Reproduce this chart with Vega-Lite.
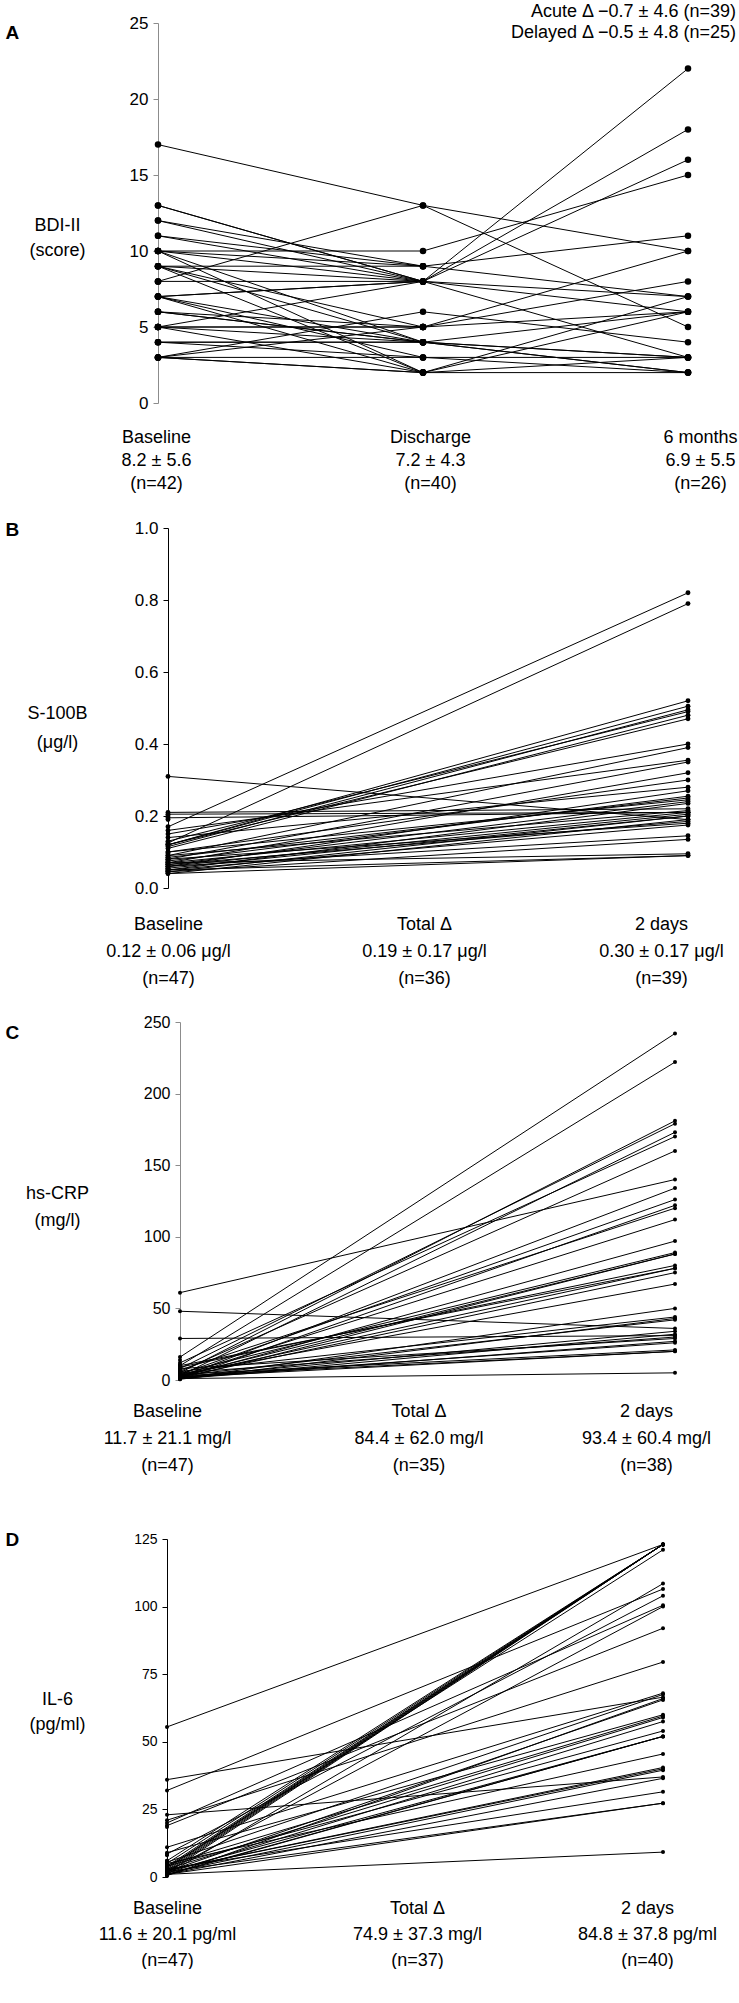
{
"$schema": "https://vega.github.io/schema/vega-lite/v6.json",
"padding": {"left": 5, "top": 3, "right": 0, "bottom": 0},
"background": "white",
"spacing": 27,
"config": {"font": "Liberation Sans", "view": {"stroke": null}, "axis": {"grid": false, "labelColor": "black", "titleColor": "black", "titleFontWeight": "normal"}, "title": {"color": "black", "fontWeight": "normal"}},
"datasets": {
"A": [
{"id":1,"time":"Baseline","value":17},{"id":1,"time":"Discharge","value":13},{"id":1,"time":"6 months","value":10},
{"id":2,"time":"Baseline","value":13},{"id":2,"time":"Discharge","value":8},{"id":2,"time":"6 months","value":16},
{"id":3,"time":"Baseline","value":12},{"id":3,"time":"Discharge","value":8},{"id":3,"time":"6 months","value":18},
{"id":4,"time":"Baseline","value":11},{"id":4,"time":"Discharge","value":9},{"id":4,"time":"6 months","value":11},
{"id":5,"time":"Baseline","value":10},{"id":5,"time":"Discharge","value":10},{"id":5,"time":"6 months","value":15},
{"id":6,"time":"Baseline","value":10},{"id":6,"time":"Discharge","value":8},{"id":6,"time":"6 months","value":22},
{"id":7,"time":"Baseline","value":10},{"id":7,"time":"Discharge","value":2},{"id":7,"time":"6 months","value":7},
{"id":8,"time":"Baseline","value":9},{"id":8,"time":"Discharge","value":8},{"id":8,"time":"6 months","value":7},
{"id":9,"time":"Baseline","value":9},{"id":9,"time":"Discharge","value":5},{"id":9,"time":"6 months","value":6},
{"id":10,"time":"Baseline","value":9},{"id":10,"time":"Discharge","value":2},{"id":10,"time":"6 months","value":3},
{"id":11,"time":"Baseline","value":8},{"id":11,"time":"Discharge","value":13},{"id":11,"time":"6 months","value":5},
{"id":12,"time":"Baseline","value":7},{"id":12,"time":"Discharge","value":8},{"id":12,"time":"6 months","value":6},
{"id":13,"time":"Baseline","value":7},{"id":13,"time":"Discharge","value":4},{"id":13,"time":"6 months","value":3},
{"id":14,"time":"Baseline","value":7},{"id":14,"time":"Discharge","value":2},{"id":14,"time":"6 months","value":6},
{"id":15,"time":"Baseline","value":6},{"id":15,"time":"Discharge","value":4},{"id":15,"time":"6 months","value":2},
{"id":16,"time":"Baseline","value":5},{"id":16,"time":"Discharge","value":5},{"id":16,"time":"6 months","value":10},
{"id":17,"time":"Baseline","value":5},{"id":17,"time":"Discharge","value":8},{"id":17,"time":"6 months","value":3},
{"id":18,"time":"Baseline","value":3},{"id":18,"time":"Discharge","value":6},{"id":18,"time":"6 months","value":4},
{"id":19,"time":"Baseline","value":3},{"id":19,"time":"Discharge","value":5},{"id":19,"time":"6 months","value":8},
{"id":20,"time":"Baseline","value":3},{"id":20,"time":"Discharge","value":2},{"id":20,"time":"6 months","value":2},
{"id":21,"time":"Baseline","value":4},{"id":21,"time":"Discharge","value":4},{"id":21,"time":"6 months","value":3},
{"id":22,"time":"Baseline","value":5},{"id":22,"time":"Discharge","value":4},{"id":22,"time":"6 months","value":2},
{"id":23,"time":"Baseline","value":7},{"id":23,"time":"Discharge","value":3},{"id":23,"time":"6 months","value":3},
{"id":24,"time":"Baseline","value":10},{"id":24,"time":"Discharge","value":4},{"id":24,"time":"6 months","value":6},
{"id":25,"time":"Baseline","value":4},{"id":25,"time":"Discharge","value":3},{"id":25,"time":"6 months","value":2},
{"id":26,"time":"Baseline","value":12},{"id":26,"time":"Discharge","value":9},{"id":26,"time":"6 months","value":7},
{"id":27,"time":"Baseline","value":13},{"id":27,"time":"Discharge","value":8},
{"id":28,"time":"Baseline","value":11},{"id":28,"time":"Discharge","value":8},
{"id":29,"time":"Baseline","value":10},{"id":29,"time":"Discharge","value":9},
{"id":30,"time":"Baseline","value":9},{"id":30,"time":"Discharge","value":4},
{"id":31,"time":"Baseline","value":8},{"id":31,"time":"Discharge","value":8},
{"id":32,"time":"Baseline","value":7},{"id":32,"time":"Discharge","value":8},
{"id":33,"time":"Baseline","value":6},{"id":33,"time":"Discharge","value":5},
{"id":34,"time":"Baseline","value":5},{"id":34,"time":"Discharge","value":5},
{"id":35,"time":"Baseline","value":4},{"id":35,"time":"Discharge","value":4},
{"id":36,"time":"Baseline","value":3},{"id":36,"time":"Discharge","value":3},
{"id":37,"time":"Baseline","value":3},{"id":37,"time":"Discharge","value":2},
{"id":38,"time":"Baseline","value":9},{"id":38,"time":"Discharge","value":9},
{"id":39,"time":"Baseline","value":6},{"id":39,"time":"Discharge","value":4},
{"id":40,"time":"Baseline","value":5},{"id":40,"time":"Discharge","value":2},
{"id":41,"time":"Baseline","value":8},
{"id":42,"time":"Baseline","value":6}
],
"B": [
{"id":1,"time":"Baseline","value":0.17},{"id":1,"time":"2 days","value":0.82},
{"id":2,"time":"Baseline","value":0.125},{"id":2,"time":"2 days","value":0.79},
{"id":3,"time":"Baseline","value":0.31},{"id":3,"time":"2 days","value":0.19},
{"id":4,"time":"Baseline","value":0.21},{"id":4,"time":"2 days","value":0.22},
{"id":5,"time":"Baseline","value":0.205},{"id":5,"time":"2 days","value":0.21},
{"id":6,"time":"Baseline","value":0.195},{"id":6,"time":"2 days","value":0.21},
{"id":7,"time":"Baseline","value":0.12},{"id":7,"time":"2 days","value":0.52},
{"id":8,"time":"Baseline","value":0.12},{"id":8,"time":"2 days","value":0.505},
{"id":9,"time":"Baseline","value":0.115},{"id":9,"time":"2 days","value":0.495},
{"id":10,"time":"Baseline","value":0.13},{"id":10,"time":"2 days","value":0.49},
{"id":11,"time":"Baseline","value":0.11},{"id":11,"time":"2 days","value":0.48},
{"id":12,"time":"Baseline","value":0.12},{"id":12,"time":"2 days","value":0.47},
{"id":13,"time":"Baseline","value":0.15},{"id":13,"time":"2 days","value":0.4},
{"id":14,"time":"Baseline","value":0.09},{"id":14,"time":"2 days","value":0.39},
{"id":15,"time":"Baseline","value":0.16},{"id":15,"time":"2 days","value":0.355},
{"id":16,"time":"Baseline","value":0.08},{"id":16,"time":"2 days","value":0.35},
{"id":17,"time":"Baseline","value":0.07},{"id":17,"time":"2 days","value":0.32},
{"id":18,"time":"Baseline","value":0.1},{"id":18,"time":"2 days","value":0.3},
{"id":19,"time":"Baseline","value":0.14},{"id":19,"time":"2 days","value":0.28},
{"id":20,"time":"Baseline","value":0.06},{"id":20,"time":"2 days","value":0.27},
{"id":21,"time":"Baseline","value":0.075},{"id":21,"time":"2 days","value":0.255},
{"id":22,"time":"Baseline","value":0.085},{"id":22,"time":"2 days","value":0.25},
{"id":23,"time":"Baseline","value":0.065},{"id":23,"time":"2 days","value":0.24},
{"id":24,"time":"Baseline","value":0.05},{"id":24,"time":"2 days","value":0.235},
{"id":25,"time":"Baseline","value":0.07},{"id":25,"time":"2 days","value":0.21},
{"id":26,"time":"Baseline","value":0.06},{"id":26,"time":"2 days","value":0.205},
{"id":27,"time":"Baseline","value":0.055},{"id":27,"time":"2 days","value":0.2},
{"id":28,"time":"Baseline","value":0.045},{"id":28,"time":"2 days","value":0.2},
{"id":29,"time":"Baseline","value":0.04},{"id":29,"time":"2 days","value":0.19},
{"id":30,"time":"Baseline","value":0.065},{"id":30,"time":"2 days","value":0.185},
{"id":31,"time":"Baseline","value":0.08},{"id":31,"time":"2 days","value":0.18},
{"id":32,"time":"Baseline","value":0.05},{"id":32,"time":"2 days","value":0.175},
{"id":33,"time":"Baseline","value":0.06},{"id":33,"time":"2 days","value":0.145},
{"id":34,"time":"Baseline","value":0.045},{"id":34,"time":"2 days","value":0.135},
{"id":35,"time":"Baseline","value":0.07},{"id":35,"time":"2 days","value":0.095},
{"id":36,"time":"Baseline","value":0.05},{"id":36,"time":"2 days","value":0.09},
{"id":37,"time":"Baseline","value":0.04},{"id":37,"time":"2 days","value":0.09},
{"id":38,"time":"Baseline","value":0.1},{"id":38,"time":"2 days","value":0.245},
{"id":39,"time":"Baseline","value":0.09},{"id":39,"time":"2 days","value":0.215},
{"id":40,"time":"Baseline","value":0.19},
{"id":41,"time":"Baseline","value":0.2},
{"id":42,"time":"Baseline","value":0.095},
{"id":43,"time":"Baseline","value":0.055},
{"id":44,"time":"Baseline","value":0.065},
{"id":45,"time":"Baseline","value":0.075},
{"id":46,"time":"Baseline","value":0.045},
{"id":47,"time":"Baseline","value":0.085}
],
"C": [
{"id":1,"time":"Baseline","value":61},{"id":1,"time":"2 days","value":140},
{"id":2,"time":"Baseline","value":48},{"id":2,"time":"2 days","value":36},
{"id":3,"time":"Baseline","value":29},{"id":3,"time":"2 days","value":31},
{"id":4,"time":"Baseline","value":16},{"id":4,"time":"2 days","value":242},
{"id":5,"time":"Baseline","value":10},{"id":5,"time":"2 days","value":222},
{"id":6,"time":"Baseline","value":5},{"id":6,"time":"2 days","value":181},
{"id":7,"time":"Baseline","value":8},{"id":7,"time":"2 days","value":179},
{"id":8,"time":"Baseline","value":3},{"id":8,"time":"2 days","value":173},
{"id":9,"time":"Baseline","value":12},{"id":9,"time":"2 days","value":170},
{"id":10,"time":"Baseline","value":6},{"id":10,"time":"2 days","value":160},
{"id":11,"time":"Baseline","value":2},{"id":11,"time":"2 days","value":134},
{"id":12,"time":"Baseline","value":4},{"id":12,"time":"2 days","value":126},
{"id":13,"time":"Baseline","value":1},{"id":13,"time":"2 days","value":122},
{"id":14,"time":"Baseline","value":7},{"id":14,"time":"2 days","value":120},
{"id":15,"time":"Baseline","value":3},{"id":15,"time":"2 days","value":112},
{"id":16,"time":"Baseline","value":2},{"id":16,"time":"2 days","value":97},
{"id":17,"time":"Baseline","value":5},{"id":17,"time":"2 days","value":89},
{"id":18,"time":"Baseline","value":1},{"id":18,"time":"2 days","value":88},
{"id":19,"time":"Baseline","value":9},{"id":19,"time":"2 days","value":80},
{"id":20,"time":"Baseline","value":3},{"id":20,"time":"2 days","value":78},
{"id":21,"time":"Baseline","value":2},{"id":21,"time":"2 days","value":75},
{"id":22,"time":"Baseline","value":4},{"id":22,"time":"2 days","value":67},
{"id":23,"time":"Baseline","value":1},{"id":23,"time":"2 days","value":50},
{"id":24,"time":"Baseline","value":6},{"id":24,"time":"2 days","value":44},
{"id":25,"time":"Baseline","value":3},{"id":25,"time":"2 days","value":42},
{"id":26,"time":"Baseline","value":2},{"id":26,"time":"2 days","value":34},
{"id":27,"time":"Baseline","value":8},{"id":27,"time":"2 days","value":29},
{"id":28,"time":"Baseline","value":1},{"id":28,"time":"2 days","value":27},
{"id":29,"time":"Baseline","value":4},{"id":29,"time":"2 days","value":21},
{"id":30,"time":"Baseline","value":2},{"id":30,"time":"2 days","value":20},
{"id":31,"time":"Baseline","value":1},{"id":31,"time":"2 days","value":5},
{"id":32,"time":"Baseline","value":3},{"id":32,"time":"2 days","value":88},
{"id":33,"time":"Baseline","value":0.5},{"id":33,"time":"2 days","value":43},
{"id":34,"time":"Baseline","value":5},{"id":34,"time":"2 days","value":30},
{"id":35,"time":"Baseline","value":2},{"id":35,"time":"2 days","value":26},
{"id":36,"time":"Baseline","value":10},{"id":36,"time":"2 days","value":78},
{"id":37,"time":"Baseline","value":1},{"id":37,"time":"2 days","value":32},
{"id":38,"time":"Baseline","value":3},{"id":38,"time":"2 days","value":20},
{"id":39,"time":"Baseline","value":0.5},
{"id":40,"time":"Baseline","value":1},
{"id":41,"time":"Baseline","value":2},
{"id":42,"time":"Baseline","value":3},
{"id":43,"time":"Baseline","value":4},
{"id":44,"time":"Baseline","value":6},
{"id":45,"time":"Baseline","value":11},
{"id":46,"time":"Baseline","value":14},
{"id":47,"time":"Baseline","value":7}
],
"D": [
{"id":1,"time":"Baseline","value":55.5},{"id":1,"time":"2 days","value":123},
{"id":2,"time":"Baseline","value":36},{"id":2,"time":"2 days","value":66.5},
{"id":3,"time":"Baseline","value":32},{"id":3,"time":"2 days","value":106.5},
{"id":4,"time":"Baseline","value":23},{"id":4,"time":"2 days","value":37},
{"id":5,"time":"Baseline","value":20},{"id":5,"time":"2 days","value":100.5},
{"id":6,"time":"Baseline","value":19},{"id":6,"time":"2 days","value":92},
{"id":7,"time":"Baseline","value":21},{"id":7,"time":"2 days","value":79.5},
{"id":8,"time":"Baseline","value":11},{"id":8,"time":"2 days","value":68},
{"id":9,"time":"Baseline","value":9},{"id":9,"time":"2 days","value":60},
{"id":10,"time":"Baseline","value":8.5},{"id":10,"time":"2 days","value":104},
{"id":11,"time":"Baseline","value":5},{"id":11,"time":"2 days","value":123},
{"id":12,"time":"Baseline","value":3},{"id":12,"time":"2 days","value":123},
{"id":13,"time":"Baseline","value":2},{"id":13,"time":"2 days","value":123},
{"id":14,"time":"Baseline","value":4},{"id":14,"time":"2 days","value":123},
{"id":15,"time":"Baseline","value":1.5},{"id":15,"time":"2 days","value":123},
{"id":16,"time":"Baseline","value":2.5},{"id":16,"time":"2 days","value":123},
{"id":17,"time":"Baseline","value":3.5},{"id":17,"time":"2 days","value":121},
{"id":18,"time":"Baseline","value":1},{"id":18,"time":"2 days","value":108.5},
{"id":19,"time":"Baseline","value":2},{"id":19,"time":"2 days","value":65.5},
{"id":20,"time":"Baseline","value":3},{"id":20,"time":"2 days","value":59},
{"id":21,"time":"Baseline","value":1.5},{"id":21,"time":"2 days","value":57.5},
{"id":22,"time":"Baseline","value":4},{"id":22,"time":"2 days","value":54},
{"id":23,"time":"Baseline","value":2},{"id":23,"time":"2 days","value":52},
{"id":24,"time":"Baseline","value":1},{"id":24,"time":"2 days","value":52},
{"id":25,"time":"Baseline","value":5},{"id":25,"time":"2 days","value":45.5},
{"id":26,"time":"Baseline","value":2.5},{"id":26,"time":"2 days","value":40.5},
{"id":27,"time":"Baseline","value":1.5},{"id":27,"time":"2 days","value":39.5},
{"id":28,"time":"Baseline","value":3},{"id":28,"time":"2 days","value":31.5},
{"id":29,"time":"Baseline","value":1},{"id":29,"time":"2 days","value":27.3},
{"id":30,"time":"Baseline","value":2},{"id":30,"time":"2 days","value":27.3},
{"id":31,"time":"Baseline","value":1},{"id":31,"time":"2 days","value":9.2},
{"id":32,"time":"Baseline","value":6},{"id":32,"time":"2 days","value":123},
{"id":33,"time":"Baseline","value":0.5},{"id":33,"time":"2 days","value":66},
{"id":34,"time":"Baseline","value":4.5},{"id":34,"time":"2 days","value":59.5},
{"id":35,"time":"Baseline","value":2.5},{"id":35,"time":"2 days","value":40},
{"id":36,"time":"Baseline","value":3.5},{"id":36,"time":"2 days","value":123},
{"id":37,"time":"Baseline","value":1},{"id":37,"time":"2 days","value":36.5},
{"id":38,"time":"Baseline","value":0.8},{"id":38,"time":"2 days","value":52},
{"id":39,"time":"Baseline","value":5.5},{"id":39,"time":"2 days","value":67.5},
{"id":40,"time":"Baseline","value":2},{"id":40,"time":"2 days","value":100},
{"id":41,"time":"Baseline","value":0.5},
{"id":42,"time":"Baseline","value":1},
{"id":43,"time":"Baseline","value":2},
{"id":44,"time":"Baseline","value":3},
{"id":45,"time":"Baseline","value":6},
{"id":46,"time":"Baseline","value":8},
{"id":47,"time":"Baseline","value":18.5}
]
},
"vconcat": [
{
"width": 530, "height": 380,
"data": {"name": "A"},
"title": {"text": ["Acute Δ −0.7 ± 4.6 (n=39)", "Delayed Δ −0.5 ± 4.8 (n=25)"], "anchor": "end", "frame": "group", "orient": "top", "align": "right", "dx": 48, "offset": -28, "fontSize": 18, "fontWeight": "normal", "lineHeight": 21, "color": "black"},
"encoding": {
"x": {"field": "time", "type": "ordinal", "scale": {"type": "point", "domain": ["Baseline", "Discharge", "6 months"], "range": [0, 530], "padding": 0},
 "axis": {"title": "A", "titleX": -153, "titleY": -371, "titleAlign": "left", "titleBaseline": "middle", "titleAngle": 0, "titleFontSize": 19, "titleFontWeight": "bold",
 "domain": false, "ticks": false, "tickSize": 0, "labelAngle": 0, "labelAlign": "center", "labelBaseline": "top", "labelPadding": 25, "labelFontSize": 18, "labelLineHeight": 23, "labelOverlap": false, "labelLimit": 0, "labelBound": false, "labelFlush": false,
 "labelExpr": "datum.value === 'Baseline' ? ['Baseline', '8.2 ± 5.6', '(n=42)'] : datum.value === 'Discharge' ? ['Discharge', '7.2 ± 4.3', '(n=40)'] : ['6 months', '6.9 ± 5.5', '(n=26)']",
 "labelOffset": {"condition": [{"test": "datum.value === 'Discharge'", "value": 7}, {"test": "datum.value === '6 months'", "value": 12}], "value": -2}}},
"y": {"field": "value", "type": "quantitative", "scale": {"domain": [0, 25], "nice": false},
 "axis": {"values": [0, 5, 10, 15, 20, 25], "title": ["BDI-II", "(score)"], "titleAngle": 0, "titleAlign": "center", "titleBaseline": "middle", "titleX": -101, "titleY": 202, "titleFontSize": 18, "titleLineHeight": 25, "domainColor": "#8c8c8c", "tickColor": "#8c8c8c", "tickSize": 5, "labelFontSize": 17, "labelPadding": 5}}
},
"layer": [
{"mark": {"type": "line", "color": "black", "strokeWidth": 1}, "encoding": {"detail": {"field": "id", "type": "nominal"}, "order": {"value": null}}},
{"mark": {"type": "circle", "color": "black", "opacity": 1, "size": 42}}
]
},
{
"width": 530, "height": 360,
"data": {"name": "B"},
"encoding": {
"x": {"field": "time", "type": "ordinal", "scale": {"type": "point", "domain": ["Baseline", "Total Δ", "2 days"], "range": [10, 530], "padding": 0},
 "axis": {"title": "B", "titleX": -153, "titleY": -359, "titleAlign": "left", "titleBaseline": "middle", "titleAngle": 0, "titleFontSize": 19, "titleFontWeight": "bold",
 "domain": false, "ticks": false, "tickSize": 0, "labelAngle": 0, "labelAlign": "center", "labelBaseline": "top", "labelPadding": 27, "labelFontSize": 18, "labelLineHeight": 27, "labelOverlap": false, "labelLimit": 0, "labelBound": false, "labelFlush": false,
 "labelExpr": "datum.value === 'Baseline' ? ['Baseline', '0.12 ± 0.06 μg/l', '(n=47)'] : datum.value === 'Total Δ' ? ['Total Δ', '0.19 ± 0.17 μg/l', '(n=36)'] : ['2 days', '0.30 ± 0.17 μg/l', '(n=39)']",
 "labelOffset": {"condition": [{"test": "datum.value === 'Total Δ'", "value": -4}, {"test": "datum.value === '2 days'", "value": -27}], "value": 0}}},
"y": {"field": "value", "type": "quantitative", "scale": {"domain": [0, 1], "nice": false},
 "axis": {"values": [0, 0.2, 0.4, 0.6, 0.8, 1], "format": ".1f", "offset": -10, "title": ["S-100B", "(μg/l)"], "titleAngle": 0, "titleAlign": "center", "titleBaseline": "middle", "titleX": -111, "titleY": 185, "titleFontSize": 18, "titleLineHeight": 29, "domainColor": "black", "tickColor": "black", "tickSize": 5, "labelFontSize": 17, "labelPadding": 5}}
},
"layer": [
{"mark": {"type": "line", "color": "black", "strokeWidth": 1}, "encoding": {"detail": {"field": "id", "type": "nominal"}}},
{"mark": {"type": "circle", "color": "black", "opacity": 1, "size": 24}}
]
},
{
"width": 530, "height": 358,
"data": {"name": "C"},
"encoding": {
"x": {"field": "time", "type": "ordinal", "scale": {"type": "point", "domain": ["Baseline", "Total Δ", "2 days"], "range": [22, 517], "padding": 0},
 "axis": {"title": "C", "titleX": -153, "titleY": -348, "titleAlign": "left", "titleBaseline": "middle", "titleAngle": 0, "titleFontSize": 19, "titleFontWeight": "bold",
 "domain": false, "ticks": false, "tickSize": 0, "labelAngle": 0, "labelAlign": "center", "labelBaseline": "top", "labelPadding": 22, "labelFontSize": 18, "labelLineHeight": 27, "labelOverlap": false, "labelLimit": 0, "labelBound": false, "labelFlush": false,
 "labelExpr": "datum.value === 'Baseline' ? ['Baseline', '11.7 ± 21.1 mg/l', '(n=47)'] : datum.value === 'Total Δ' ? ['Total Δ', '84.4 ± 62.0 mg/l', '(n=35)'] : ['2 days', '93.4 ± 60.4 mg/l', '(n=38)']",
 "labelOffset": {"condition": [{"test": "datum.value === 'Total Δ'", "value": -9}, {"test": "datum.value === '2 days'", "value": -29}], "value": -13}}},
"y": {"field": "value", "type": "quantitative", "scale": {"domain": [0, 250], "nice": false},
 "axis": {"values": [0, 50, 100, 150, 200, 250], "offset": -22, "title": ["hs-CRP", "(mg/l)"], "titleAngle": 0, "titleAlign": "center", "titleBaseline": "middle", "titleX": -123, "titleY": 171, "titleFontSize": 18, "titleLineHeight": 27, "domainColor": "#8c8c8c", "tickColor": "#8c8c8c", "tickSize": 5, "labelFontSize": 16, "labelPadding": 5}}
},
"layer": [
{"mark": {"type": "line", "color": "black", "strokeWidth": 1}, "encoding": {"detail": {"field": "id", "type": "nominal"}}},
{"mark": {"type": "circle", "color": "black", "opacity": 1, "size": 16}}
]
},
{
"width": 530, "height": 376,
"data": {"name": "D"},
"encoding": {
"x": {"field": "time", "type": "ordinal", "scale": {"type": "point", "domain": ["Baseline", "Total Δ", "2 days"], "range": [9, 505], "padding": 0},
 "axis": {"title": "D", "titleX": -153, "titleY": -338, "titleAlign": "left", "titleBaseline": "middle", "titleAngle": 0, "titleFontSize": 19, "titleFontWeight": "bold",
 "domain": false, "ticks": false, "tickSize": 0, "labelAngle": 0, "labelAlign": "center", "labelBaseline": "top", "labelPadding": 22, "labelFontSize": 18, "labelLineHeight": 26, "labelOverlap": false, "labelLimit": 0, "labelBound": false, "labelFlush": false,
 "labelExpr": "datum.value === 'Baseline' ? ['Baseline', '11.6 ± 20.1 pg/ml', '(n=47)'] : datum.value === 'Total Δ' ? ['Total Δ', '74.9 ± 37.3 mg/l', '(n=37)'] : ['2 days', '84.8 ± 37.8 pg/ml', '(n=40)']",
 "labelOffset": {"condition": [{"test": "datum.value === 'Total Δ'", "value": 2}, {"test": "datum.value === '2 days'", "value": -16}], "value": 0}}},
"y": {"field": "value", "type": "quantitative", "scale": {"domain": [0, 125], "range": [376, 38], "nice": false},
 "axis": {"values": [0, 25, 50, 75, 100, 125], "offset": -9, "title": ["IL-6", "(pg/ml)"], "titleAngle": 0, "titleAlign": "center", "titleBaseline": "middle", "titleX": -110, "titleY": 198, "titleFontSize": 18, "titleLineHeight": 25, "domainColor": "black", "tickColor": "black", "tickSize": 5, "labelFontSize": 14, "labelPadding": 5}}
},
"layer": [
{"mark": {"type": "line", "color": "black", "strokeWidth": 1}, "encoding": {"detail": {"field": "id", "type": "nominal"}}},
{"mark": {"type": "circle", "color": "black", "opacity": 1, "size": 16}}
]
}
]
}
